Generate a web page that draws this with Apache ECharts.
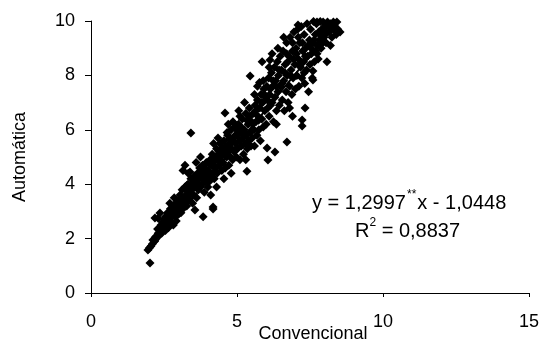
<!DOCTYPE html>
<html>
<head>
<meta charset="utf-8">
<script src="https://cdn.jsdelivr.net/npm/echarts@6/dist/echarts.min.js"></script>
<style>
  html, body { margin: 0; padding: 0; background: #fff; }
  #chart { width: 542px; height: 343px; }
</style>
</head>
<body>
<div id="chart"></div>
<script>
// Convencional (x) vs Automática (y)
const points = [
  [2.02, 1.10], [1.95, 1.58], [2.0, 1.65], [2.05, 1.72], [2.1, 1.8], [2.12, 1.95], [2.18, 1.9], [2.2, 2.05],
  [2.25, 2.1], [2.3, 2.2], [2.19, 2.76], [2.36, 2.94], [2.28, 2.35], [2.35, 2.3], [2.4, 2.5], [2.42, 2.2],
  [2.45, 2.6], [2.48, 2.4], [2.3, 2.75], [2.5, 2.7],
  [2.55, 2.3], [2.55, 2.8], [2.6, 2.55], [2.62, 2.95], [2.65, 2.4], [2.7, 2.75], [2.72, 3.1], [2.75, 2.6],
  [2.78, 2.9], [2.8, 3.2], [2.82, 2.5], [2.85, 3.0], [2.88, 2.8], [2.9, 3.3], [2.92, 2.65], [2.95, 3.1],
  [2.98, 3.4], [3.0, 2.9], [2.7, 3.3], [2.85, 3.5],
  [3.02, 3.2], [3.05, 3.6], [3.08, 2.95], [3.1, 3.4], [3.12, 3.8], [3.15, 3.1], [3.18, 3.5], [3.2, 3.3],
  [3.22, 3.9], [3.25, 3.6], [3.28, 3.2], [3.3, 3.75], [3.32, 4.0], [3.35, 3.45], [3.38, 3.9], [3.4, 3.6],
  [3.42, 4.2], [3.45, 3.8], [3.48, 3.3], [3.5, 4.0], [3.22, 4.7], [3.39, 4.45], [3.33, 4.4], [3.42, 5.88],
  [3.56, 3.05], [3.84, 2.8], [4.18, 3.09], [4.18, 3.16], [3.15, 4.5],
  [3.52, 3.6], [3.55, 4.3], [3.58, 3.9], [3.6, 4.1], [3.62, 3.5], [3.65, 4.4], [3.68, 3.8], [3.7, 4.2],
  [3.72, 4.6], [3.75, 3.9], [3.78, 4.35], [3.8, 4.0], [3.82, 4.7], [3.85, 4.2], [3.88, 3.7], [3.9, 4.5],
  [3.92, 4.1], [3.95, 4.8], [3.98, 4.3], [4.0, 3.9], [3.6, 4.8], [3.75, 5.0],
  [4.02, 4.5], [4.05, 4.1], [4.08, 4.9], [4.1, 4.3], [4.12, 4.7], [4.15, 5.1], [4.18, 4.4], [4.2, 4.8],
  [4.22, 4.2], [4.25, 5.0], [4.28, 4.6], [4.3, 5.3], [4.32, 4.4], [4.35, 4.9], [4.38, 5.2], [4.4, 4.7],
  [4.42, 5.5], [4.45, 5.0], [4.48, 4.5], [4.5, 5.3], [4.1, 3.6], [4.3, 3.9], [4.2, 5.5], [4.35, 5.7],
  [4.52, 4.8], [4.55, 5.6], [4.58, 5.1], [4.6, 4.6], [4.62, 5.4], [4.65, 5.0], [4.68, 5.8], [4.7, 5.2],
  [4.72, 4.7], [4.75, 5.5], [4.78, 5.0], [4.8, 6.0], [4.82, 5.3], [4.85, 4.9], [4.88, 5.7], [4.9, 5.2],
  [4.92, 6.1], [4.95, 5.5], [4.98, 5.0], [5.0, 5.8], [4.59, 6.62], [4.7, 6.2], [4.55, 4.2], [4.8, 4.4],
  [5.02, 5.3], [5.05, 6.2], [5.08, 5.6], [5.1, 4.9], [5.12, 5.9], [5.15, 5.4], [5.18, 6.4], [5.2, 5.7],
  [5.22, 5.1], [5.25, 6.0], [5.28, 5.5], [5.3, 6.6], [5.32, 5.8], [5.34, 4.48], [5.35, 5.3], [5.38, 6.2],
  [5.4, 5.6], [5.42, 6.8], [5.45, 5.9], [5.48, 5.4], [5.5, 6.3], [5.1, 6.5], [5.3, 4.9], [5.45, 7.98],
  [5.52, 5.7], [5.55, 6.6], [5.58, 6.0], [5.6, 5.4], [5.62, 6.9], [5.65, 6.3], [5.68, 5.8], [5.7, 7.1],
  [5.72, 6.5], [5.75, 6.0], [5.77, 7.74], [5.78, 6.8], [5.8, 5.6], [5.82, 7.3], [5.85, 6.4], [5.86, 8.5],
  [5.88, 7.0], [5.9, 6.1], [5.92, 7.5], [5.95, 6.7], [5.98, 7.2], [6.0, 6.2], [5.6, 7.3],
  [6.02, 7.6], [6.03, 5.33], [6.05, 6.8], [6.06, 4.89], [6.08, 7.9], [6.1, 6.5], [6.12, 7.3], [6.13, 8.57],
  [6.15, 6.9], [6.18, 8.1], [6.2, 7.0], [6.22, 7.6], [6.25, 6.3], [6.28, 8.3], [6.3, 5.18], [6.3, 7.2],
  [6.32, 7.8], [6.35, 6.7], [6.38, 8.5], [6.4, 7.4], [6.42, 8.0], [6.45, 6.9], [6.48, 8.7], [6.5, 7.6],
  [6.2, 8.8], [6.4, 9.0], [6.35, 6.2],
  [6.52, 8.2], [6.55, 7.1], [6.58, 8.9], [6.6, 7.8], [6.62, 6.7], [6.65, 8.4], [6.68, 7.4], [6.7, 9.2],
  [6.71, 5.55], [6.72, 8.0], [6.75, 7.0], [6.78, 8.7], [6.8, 7.6], [6.82, 9.4], [6.85, 8.2], [6.88, 7.3],
  [6.9, 8.9], [6.92, 7.9], [6.95, 9.6], [6.98, 8.4], [7.0, 7.5], [6.6, 9.4], [6.8, 6.8], [6.9, 6.5],
  [7.02, 9.0], [7.05, 8.0], [7.08, 9.7], [7.09, 9.85], [7.1, 8.6], [7.12, 7.6], [7.15, 9.2], [7.18, 8.3],
  [7.2, 9.8], [7.22, 7.9], [7.23, 6.36], [7.23, 6.14], [7.25, 8.9], [7.28, 8.5], [7.3, 9.5], [7.32, 7.7],
  [7.33, 6.8], [7.35, 9.0], [7.38, 8.2], [7.4, 9.9], [7.42, 8.7], [7.45, 7.4], [7.48, 9.3], [7.5, 8.4],
  [7.52, 9.7], [7.55, 8.8], [7.58, 7.9], [7.6, 7.83], [7.6, 8.16], [7.6, 9.2], [7.62, 9.98], [7.65, 8.5],
  [7.68, 9.5], [7.7, 8.9], [7.72, 9.9], [7.74, 9.96], [7.75, 9.1], [7.78, 8.6], [7.8, 9.6], [7.82, 9.3],
  [7.85, 9.98], [7.88, 9.0], [7.9, 9.7], [7.95, 9.96], [7.98, 9.4],
  [8.02, 9.8], [8.05, 9.2], [8.08, 8.5], [8.1, 9.96], [8.15, 9.6], [8.2, 9.9], [8.25, 9.4], [8.3, 9.96],
  [8.35, 9.8], [8.42, 9.96], [8.45, 9.7], [8.53, 9.6], [8.2, 9.1],
  // denser core of the band
  [2.58, 2.6], [2.68, 2.9], [2.76, 3.0], [2.94, 2.85], [3.04, 3.3], [3.14, 3.25], [3.24, 3.45], [3.36, 3.7],
  [3.44, 4.0], [3.28, 3.95], [3.54, 3.95], [3.64, 4.05], [3.74, 4.45], [3.86, 4.4], [3.94, 4.55], [4.04, 4.75],
  [4.14, 4.85], [4.24, 4.6], [4.34, 5.05], [4.44, 5.25], [4.54, 5.2], [4.64, 5.3], [4.74, 5.65], [4.84, 5.55],
  [4.94, 5.8], [5.04, 5.95], [5.14, 6.1], [5.24, 5.85], [5.34, 6.35], [5.44, 6.5], [4.66, 5.9], [4.86, 6.3],
  [5.06, 6.7], [5.26, 7.0], [5.54, 6.2], [5.64, 6.7], [5.74, 6.35], [5.84, 7.0], [5.94, 7.3], [6.04, 7.1],
  [6.14, 7.5], [6.24, 7.8], [6.34, 7.6], [6.44, 8.2], [5.7, 7.6], [5.9, 7.8], [6.1, 8.3], [6.54, 7.7],
  [6.64, 8.1], [6.74, 8.5], [6.84, 8.0], [6.94, 8.6], [7.04, 8.8], [7.14, 8.4], [7.24, 9.2], [7.34, 8.7],
  [7.44, 9.1], [6.7, 8.8], [6.9, 9.2], [7.1, 9.4], [7.3, 8.1], [7.54, 9.0], [7.64, 9.3], [7.74, 8.8],
  [7.84, 9.5], [7.94, 9.2], [8.04, 9.6], [8.14, 9.8], [8.3, 9.7], [8.4, 9.5]
];

// fitted trend line, as printed on the chart
const slope = 1.2997;
const intercept = -1.0448;
const trendX = [1.95, 8.5];

const xTicks = [0, 5, 10, 15];
const yTicks = [0, 2, 4, 6, 8, 10];

const font = 'Liberation Sans, Arial, sans-serif';

const chart = echarts.init(document.getElementById('chart'), null, { renderer: 'canvas' });

chart.setOption({
  animation: false,
  backgroundColor: '#fff',
  grid: { left: 91, right: 13, top: 21, bottom: 50, outerBoundsMode: 'none', containLabel: false },
  xAxis: {
    type: 'value',
    min: xTicks[0],
    max: xTicks[xTicks.length - 1],
    interval: 5,
    name: 'Convencional',
    nameLocation: 'middle',
    nameGap: 32,
    nameMoveOverlap: false,
    nameTextStyle: { color: '#000', fontSize: 18, fontFamily: font, padding: [0, 0, 0, 6] },
    axisLine: { lineStyle: { color: '#000', width: 1 } },
    axisTick: { inside: false, length: 4, lineStyle: { color: '#000' } },
    axisLabel: { color: '#000', fontSize: 18, fontFamily: font, margin: 20 },
    splitLine: { show: false }
  },
  yAxis: {
    type: 'value',
    min: yTicks[0],
    max: yTicks[yTicks.length - 1],
    interval: 2,
    name: 'Automática',
    nameLocation: 'middle',
    nameGap: 62,
    nameMoveOverlap: false,
    nameTextStyle: { color: '#000', fontSize: 18, fontFamily: font },
    axisLine: { show: true, lineStyle: { color: '#000', width: 1 } },
    axisTick: { show: true, inside: false, length: 6, lineStyle: { color: '#000' } },
    axisLabel: { color: '#000', fontSize: 18, fontFamily: font, margin: 16 },
    splitLine: { show: false }
  },
  graphic: [
    {
      type: 'text',
      left: 312,
      top: 189,
      style: {
        text: '{n|y = 1,2997}{s|**}{n|x - 1,0448}',
        rich: {
          n: { fontSize: 20, fontFamily: font, fill: '#000', lineHeight: 24, verticalAlign: 'bottom' },
          s: { fontSize: 12, fontFamily: font, fill: '#000', lineHeight: 24, verticalAlign: 'top', padding: [0, 1, 0, 1] }
        }
      }
    },
    {
      type: 'text',
      left: 355,
      top: 217,
      style: {
        text: '{n|R}{s|2}{n| = 0,8837}',
        rich: {
          n: { fontSize: 20, fontFamily: font, fill: '#000', lineHeight: 24, verticalAlign: 'bottom' },
          s: { fontSize: 12, fontFamily: font, fill: '#000', lineHeight: 24, verticalAlign: 'top' }
        }
      }
    }
  ],
  series: [
    {
      type: 'line',
      data: trendX.map(x => [x, slope * x + intercept]),
      symbol: 'none',
      lineStyle: { color: '#000', width: 2 },
      z: 1
    },
    {
      type: 'scatter',
      data: points,
      symbol: 'diamond',
      symbolSize: 9,
      itemStyle: { color: '#000', opacity: 1 },
      z: 2
    }
  ]
});
</script>
</body>
</html>
